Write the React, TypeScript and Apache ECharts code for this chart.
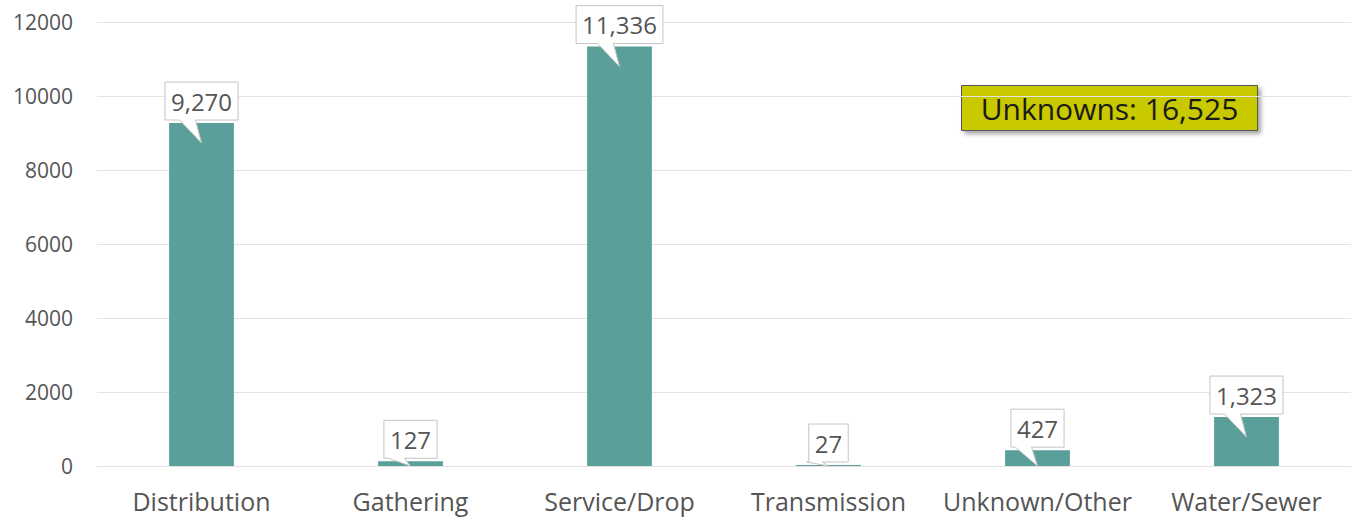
import React, { useEffect, useRef } from "react";
import * as echarts from "echarts";

const categories = ["Distribution", "Gathering", "Service/Drop", "Transmission", "Unknown/Other", "Water/Sewer"];
const counts = [9270, 127, 11336, 27, 427, 1323];
const yTicks = { min: 0, max: 12000, interval: 2000 };
const unknownsText = "Unknowns: 16,525";

const FONT = "'Open Sans', 'Noto Sans', sans-serif";
const LABEL_SIZE = 24;

function measure(text: string, size: number): number {
  const c = document.createElement("canvas");
  const ctx = c.getContext("2d");
  if (!ctx) return text.length * size * 0.55;
  ctx.font = `${size}px 'Open Sans'`;
  return ctx.measureText(text).width;
}

export default function App() {
  const ref = useRef<HTMLDivElement>(null);
  useEffect(() => {
    if (!ref.current) return;
    const chart = echarts.init(ref.current, null, { renderer: "svg" });
    const fmt = (v: number) => v.toLocaleString("en-US");
    chart.setOption({
      animation: false,
      grid: { left: 97, right: 8, top: 22, bottom: 55, containLabel: false },
      xAxis: {
        type: "category",
        data: categories,
        axisLine: { show: false },
        axisTick: { show: false },
        axisLabel: { color: "#555", fontSize: 25, fontFamily: FONT, margin: 22, interval: 0 },
      },
      yAxis: {
        type: "value",
        min: yTicks.min,
        max: yTicks.max,
        interval: yTicks.interval,
        axisLine: { show: false },
        axisTick: { show: false },
        axisLabel: {
          color: "#555",
          fontSize: 21,
          fontFamily: FONT,
          margin: 24,
          formatter: (v: number) => String(v),
        },
        splitLine: { lineStyle: { color: "#e2e2e2", width: 1 } },
      },
      series: [
        {
          type: "bar",
          data: counts,
          barWidth: "31%",
          itemStyle: { color: "#5a9f99" },
        },
        {
          type: "custom",
          data: counts.map((v, i) => [i, v]),
          clip: false,
          z: 10,
          renderItem: (params: any, api: any) => {
            const i = api.value(0);
            const v = api.value(1);
            const top = api.coord([i, v]);
            const zero = api.coord([i, 0]);
            const text = fmt(v);
            const w = measure(text, LABEL_SIZE) + 12;
            const h = 38;
            const cx = top[0];
            const B = top[1] - 3;
            const T = B - h;
            const L = cx - w / 2;
            const R = cx + w / 2;
            const tipY = Math.min(top[1] + 20, zero[1]);
            const pts = [
              [L, T],
              [R, T],
              [R, B],
              [cx - 6, B],
              [cx, tipY],
              [cx - 22, B],
              [L, B],
            ];
            return {
              type: "group",
              children: [
                {
                  type: "polygon",
                  shape: { points: pts },
                  style: { fill: "#ffffff", stroke: "#c4c4c4", lineWidth: 1 },
                },
                {
                  type: "text",
                  x: cx,
                  y: (T + B) / 2,
                  style: {
                    text,
                    fill: "#555",
                    font: `${LABEL_SIZE}px ${FONT}`,
                    align: "center",
                    verticalAlign: "middle",
                  },
                },
              ],
            };
          },
        },
      ],
      graphic: [
        {
          type: "group",
          left: 961,
          top: 85,
          children: [
            {
              type: "rect",
              shape: { x: 0, y: 0, width: 296, height: 45 },
              style: {
                fill: "#c9c900",
                stroke: "#555",
                lineWidth: 1,
                shadowBlur: 4,
                shadowOffsetX: 3,
                shadowOffsetY: 3,
                shadowColor: "rgba(0,0,0,0.35)",
              },
            },
            {
              type: "text",
              x: 148,
              y: 23,
              style: {
                text: unknownsText,
                fill: "#1a1a1a",
                font: `30px ${FONT}`,
                align: "center",
                verticalAlign: "middle",
              },
            },
          ],
        },
      ],
    });
    return () => chart.dispose();
  }, []);
  return (
    <div
      ref={ref}
      style={{ position: "absolute", left: 0, top: 0, width: 1359, height: 521 }}
    />
  );
}
